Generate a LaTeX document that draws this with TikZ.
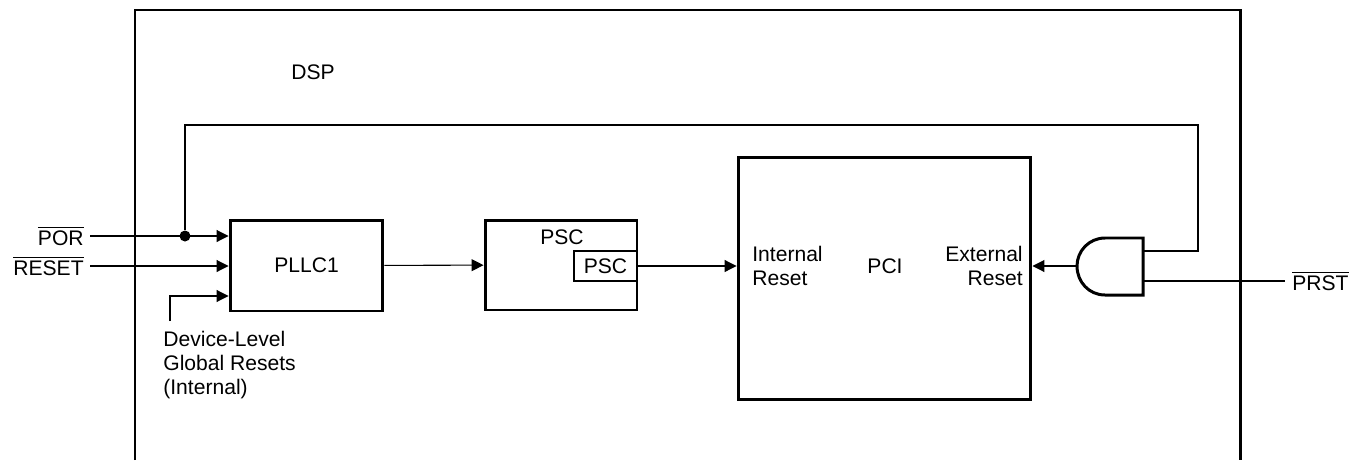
\documentclass[tikz,border=0pt]{standalone}
\usepackage{fontspec}
\setmainfont{Liberation Sans}
\usetikzlibrary{arrows.meta,positioning,calc}
\newcommand{\ovl}[1]{$\overline{\mbox{#1}}$}
\tikzset{
  blk/.style={draw, line width=1.7pt, inner sep=0pt},
  wire/.style={line width=0.6pt},
  arr/.style={wire, -{Triangle[length=2.4mm, width=2.4mm]}},
  lbl/.style={font=\fontsize{12}{13.6}\selectfont, inner sep=0pt},
  junc/.style={circle, fill, inner sep=0pt, minimum size=2.2mm}}

\begin{document}
\begin{tikzpicture}[x=0.02cm, y=-0.02cm]
  \useasboundingbox (0,0) rectangle (1354,460);
  % DSP frame (open at the bottom)
  \draw[line width=1.7pt] (135,460) |- (1240,10) -- (1240,460);
  \node[lbl] (dsp) at (313,72) {DSP};
  % blocks
  \node[blk, minimum width=3.06cm, minimum height=1.82cm, lbl] (pll) at (306.5,265.5) {PLLC1};
  \node[blk, minimum width=3.04cm, minimum height=1.8cm] (psc) at (561,265) {};
  \node[lbl] (psct) at (562,237) {PSC};
  \node[draw, wire, minimum width=1.26cm, minimum height=0.6cm, lbl] (psci) at (605.5,266) {PSC};
  \node[blk, minimum width=5.86cm, minimum height=4.86cm] (pci) at (884.5,278.5) {};
  \node[lbl] (pcit) at (885,266) {PCI};
  \node[lbl, anchor=west, align=left] (intr) at (752,266) {Internal\\Reset};
  \node[lbl, anchor=east, align=right] (extr) at (1023,266) {External\\Reset};
  % inputs
  \node[lbl, anchor=east] (por) at (84,236) {\ovl{POR}};
  \node[lbl, anchor=east] (rst) at (84,266) {\ovl{RESET}};
  \node[lbl, anchor=north west, align=left] (glbt) at (163,331) {Device-Level\\Global Resets\\(Internal)};
  \node[lbl, anchor=west] (prst) at (1292,281) {\ovl{PRST}};
  \node[junc] (dot) at (185,236) {};
  \coordinate (glb) at (170,321);
  \coordinate (fbtop) at (1198,125);
  % AND gate
  \draw[line width=1.7pt] (1143,238) -- (1105,238)
    .. controls (1089,238) and (1077,251) .. (1077,266)
    .. controls (1077,282) and (1089,295) .. (1105,295) -- (1143,295) -- cycle;
  \coordinate (andout) at (1077,266);
  \coordinate (andin1) at (1143,251);
  \coordinate (andin2) at (1143,281);
  % connectors
  \draw[arr] ([xshift=1.2mm]por.east) -- (pll.west |- por.east);
  \draw[arr] ([xshift=1.2mm]rst.east) -- (pll.west |- rst.east);
  \draw[arr] (glb) |- ([yshift=-6.1mm]pll.west);
  \draw[arr] (pll) -- (psc);
  \draw[arr] (psci.east) -- (pci.west |- psci.east);
  \draw[arr] (andout) -- (pci.east |- andout);
  \draw[wire] (dot) |- (fbtop) |- (andin1);
  \draw[wire] (andin2) -- ([xshift=-1.4mm]prst.west);
\end{tikzpicture}
\end{document}
